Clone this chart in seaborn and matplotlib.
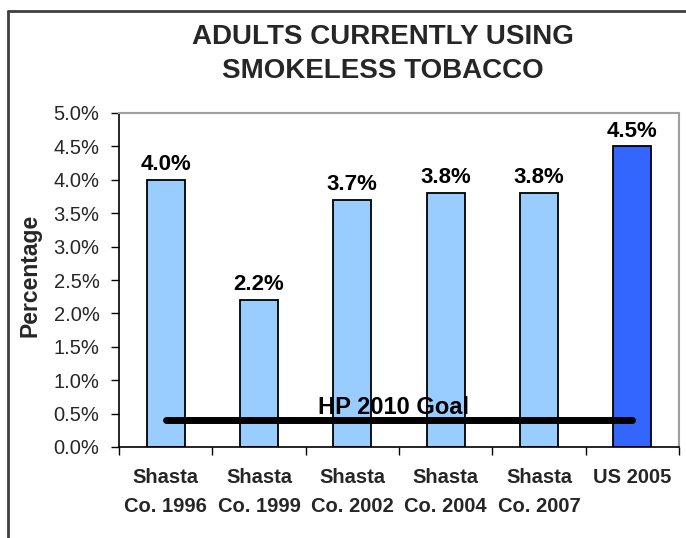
import matplotlib
matplotlib.use("Agg")
import matplotlib.pyplot as plt
from matplotlib.lines import Line2D
from matplotlib.ticker import FuncFormatter, FixedLocator
import seaborn as sns
import pandas as pd

# Survey results: adults currently using smokeless tobacco (%)
categories = ["Shasta\nCo. 1996", "Shasta\nCo. 1999", "Shasta\nCo. 2002",
              "Shasta\nCo. 2004", "Shasta\nCo. 2007", "US 2005"]
values = [4.0, 2.2, 3.7, 3.8, 3.8, 4.5]
bar_colors = ["#99CCFF", "#99CCFF", "#99CCFF", "#99CCFF", "#99CCFF", "#3366FF"]
goal_value = 0.4
goal_label = "HP 2010 Goal"
y_ticks = [0.0, 0.5, 1.0, 1.5, 2.0, 2.5, 3.0, 3.5, 4.0, 4.5, 5.0]

sns.set_theme(style="white")
plt.rcParams["font.family"] = ["Liberation Sans", "DejaVu Sans"]

df = pd.DataFrame({"group": categories, "pct": values})

fig = plt.figure(figsize=(6.86, 5.38), dpi=100)
ax = fig.add_axes([119 / 686, 1 - 447 / 538, 560 / 686, 334 / 538])

sns.barplot(data=df, x="group", y="pct", hue="group", palette=bar_colors,
            legend=False, width=0.41, edgecolor="black", linewidth=1.3,
            saturation=1, ax=ax)

ax.set_xlim(-0.5, len(categories) - 0.5)
ax.set_ylim(0, 5.0)

# value labels above the bars
for i, v in enumerate(values):
    ax.text(i, v + 0.07, f"{v:.1f}%", ha="center", va="bottom",
            fontsize=16, fontweight="bold", color="black")

# goal reference line across the bars
ax.plot([0, len(categories) - 1], [goal_value, goal_value], color="black",
        lw=5, solid_capstyle="round", zorder=5)
ax.text(2.44, 0.5, goal_label, ha="center", va="baseline",
        fontsize=17, fontweight="bold", color="black", zorder=6)

# y axis
ax.yaxis.set_major_locator(FixedLocator(y_ticks))
ax.yaxis.set_major_formatter(FuncFormatter(lambda v, p: f"{v:.1f}%"))
ax.tick_params(axis="y", which="major", direction="out", length=6,
               width=1, color="black", labelsize=14.5, pad=8, left=True)
ax.set_ylabel("Percentage", fontsize=16.5, fontweight="bold")
ax.yaxis.set_label_coords(-0.138, 0.515)

# x axis: ticks at category boundaries, labels at category centers
ax.set_xlabel("")
ax.xaxis.set_major_locator(FixedLocator([i - 0.5 for i in range(len(categories) + 1)]))
ax.xaxis.set_minor_locator(FixedLocator(list(range(len(categories)))))
ax.set_xticklabels([""] * (len(categories) + 1))
ax.set_xticklabels(categories, minor=True, fontsize=14.5, fontweight="bold",
                   linespacing=1.65)
ax.tick_params(axis="x", which="major", direction="out", length=6,
               width=1, color="black", bottom=True)
ax.tick_params(axis="x", which="minor", length=0, pad=15)

for side in ["left", "bottom"]:
    ax.spines[side].set_color("black")
    ax.spines[side].set_linewidth(1.2)
for side in ["top", "right"]:
    ax.spines[side].set_visible(True)
    ax.spines[side].set_color("#A0A0A0")
    ax.spines[side].set_linewidth(1.5)

fig.text(383 / 686, 1 - 54 / 538, "ADULTS CURRENTLY USING\nSMOKELESS TOBACCO",
         ha="center", va="center", fontsize=20, fontweight="bold",
         linespacing=1.45)

# frame lines along the top and left edges of the figure
fig.add_artist(Line2D([8 / 686, 1], [1 - 11 / 538, 1 - 11 / 538],
                      transform=fig.transFigure, color="#404040", lw=2))
fig.add_artist(Line2D([8 / 686, 8 / 686], [0, 1 - 11 / 538],
                      transform=fig.transFigure, color="#404040", lw=2))

fig.savefig("out.png", dpi=100)
